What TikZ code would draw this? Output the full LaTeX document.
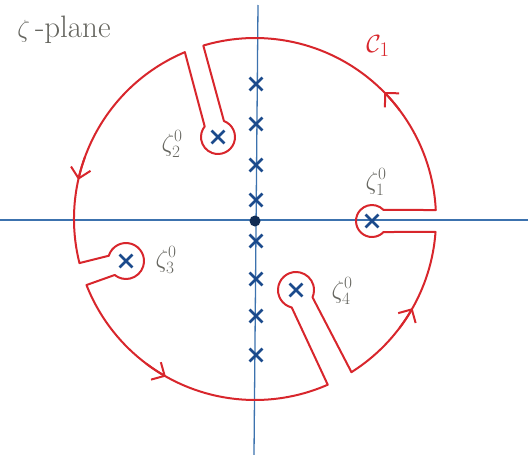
\documentclass[tikz,border=0pt]{standalone}
\usepackage{amsmath,amssymb}
\usetikzlibrary{arrows.meta, calc, shapes.misc}
\definecolor{contred}{HTML}{D8262C}
\definecolor{zeroblue}{HTML}{1B4A8C}
\definecolor{axisblue}{HTML}{3C72AE}
\definecolor{labelgray}{HTML}{666660}

\begin{document}
\begin{tikzpicture}[x=1pt, y=1pt, yscale=-1,
  every node/.style={font=\fontsize{25}{27}\selectfont},
  >={Straight Barb[length=10pt, width=20pt]},
  axis/.style={axisblue, line width=1.3pt},
  contour/.style={contred, line width=2pt, line join=round},
  zero/.style={cross out, draw=zeroblue, line width=2.8pt, minimum size=10pt, inner sep=0pt},
  origin/.style={circle, fill=zeroblue!60!black, minimum size=11pt, inner sep=0pt},
  lbl/.style={text=labelgray}
]
\useasboundingbox (0,0) rectangle (528,455);

\coordinate (O) at (255,219);
\coordinate (w) at (0,220);
\coordinate (e) at (528,220);
\coordinate (n) at (258,5);
\coordinate (s) at (254,455);
\draw[axis] (w) -- (e);
\draw[axis] (n) -- (s);

\coordinate (c1) at (372,221);
\coordinate (c2) at (218,137);
\coordinate (c3) at (126,261);
\coordinate (c4) at (296,290);

\draw[contour]
  ($(O)+(-2.85:181)$) arc[start angle=-2.85, end angle=-106.6, radius=181]
  -- ($(c2)+(-69.5:17)$) arc[start angle=-69.5, end angle=218.5, radius=17]
  -- ($(O)+(-112.8:181)$) arc[start angle=-112.8, end angle=-194.1, radius=181]
  -- ($(c3)+(197:18)$) arc[start angle=197, end angle=489, radius=18]
  -- ($(O)+(-201.4:181)$) arc[start angle=-201.4, end angle=-293.7, radius=181]
  -- ($(c4)+(103.7:18)$) arc[start angle=103.7, end angle=383.7, radius=18]
  -- ($(O)+(-302.2:181)$) arc[start angle=-302.2, end angle=-355.9, radius=181]
  -- ($(c1)+(43.5:16)$) arc[start angle=43.5, end angle=316.5, radius=16]
  -- cycle;

\foreach \a in {-37, -160, -233, -323}
  \draw[contour, ->] ($(O)+(\a:181)$) arc[start angle=\a, end angle=\a-7.5, radius=181];

\foreach \y [count=\i] in {84,124,165,200,241,279,316,355}
  \node[zero] (p\i) at (256,\y) {};
\node[origin] (o) at (255,221) {};

\node[zero] (z1) at (c1) {};
\node[zero] (z2) at (c2) {};
\node[zero] (z3) at (c3) {};
\node[zero] (z4) at (c4) {};

\node[lbl, font=\fontsize{31}{33}\selectfont] (plane) at (64,30) {$\zeta$\,-plane};
\node[text=contred, font=\fontsize{30}{32}\selectfont] (cont) at (378,46) {$\mathcal{C}_1$};
\node[lbl] (l1) at (376,182) {$\zeta_1^0$};
\node[lbl] (l2) at (172,144) {$\zeta_2^0$};
\node[lbl] (l3) at (166,260) {$\zeta_3^0$};
\node[lbl] (l4) at (342,291) {$\zeta_4^0$};
\end{tikzpicture}
\end{document}
